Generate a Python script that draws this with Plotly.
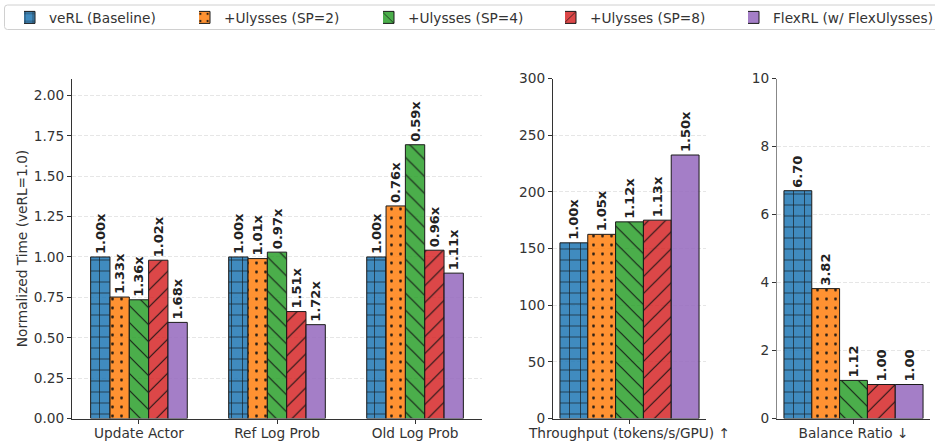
import plotly.graph_objects as go

# ---------------- data ----------------
series_names = ["veRL (Baseline)", "+Ulysses (SP=2)", "+Ulysses (SP=4)", "+Ulysses (SP=8)", "FlexRL (w/ FlexUlysses)"]
stage_categories = ["Update Actor", "Ref Log Prob", "Old Log Prob"]
# normalized time per stage (rows = series, cols = stage)
stage_times = [
    [1.00, 1.00, 1.00],
    [0.752, 0.99, 1.316],
    [0.735, 1.03, 1.695],
    [0.98, 0.662, 1.042],
    [0.595, 0.581, 0.90],
]
stage_labels = [
    ["1.00x", "1.00x", "1.00x"],
    ["1.33x", "1.01x", "0.76x"],
    ["1.36x", "0.97x", "0.59x"],
    ["1.02x", "1.51x", "0.96x"],
    ["1.68x", "1.72x", "1.11x"],
]
throughput_category = ["Throughput (tokens/s/GPU) ↑"]
throughput_values = [155.0, 162.5, 173.5, 175.0, 232.5]
throughput_labels = ["1.00x", "1.05x", "1.12x", "1.13x", "1.50x"]
balance_category = ["Balance Ratio ↓"]
balance_values = [6.70, 3.82, 1.12, 1.00, 1.00]
balance_labels = ["6.70", "3.82", "1.12", "1.00", "1.00"]

y1_ticks = [0.0, 0.25, 0.5, 0.75, 1.0, 1.25, 1.5, 1.75, 2.0]
y2_ticks = [0, 50, 100, 150, 200, 250, 300]
y3_ticks = [0, 2, 4, 6, 8, 10]

# ---------------- style ----------------
colors = ["rgba(31,119,180,0.85)", "rgba(255,127,14,0.85)", "rgba(44,160,44,0.85)",
          "rgba(214,39,40,0.85)", "rgba(148,103,189,0.85)"]
patterns = ["+", ".", "\\", "/", ""]
pat_sizes = [11, 9, 12, 12, 8]
pat_solid = [0.12, 0.08, 0.1, 0.1, 0.2]
legend_ids = ["legend", "legend2", "legend3", "legend4", "legend5"]
legend_left_px = [24, 199, 383, 565, 748]
FONT = "DejaVu Sans"
TXT = "#333333"
FS = 13.7

fig = go.Figure()


def add(x, y, labels, i, xa, ya, show):
    fig.add_trace(go.Bar(
        x=x, y=y, name=series_names[i], legendgroup=series_names[i], showlegend=show,
        legend=legend_ids[i],
        xaxis=xa, yaxis=ya,
        marker=dict(color=colors[i], line=dict(color="#1a1a1a", width=1),
                    pattern=dict(shape=patterns[i], fgcolor="#111111", fgopacity=0.9,
                                 size=pat_sizes[i], solidity=pat_solid[i])),
        text=labels, textposition="outside", textangle=-90, constraintext="none",
        cliponaxis=False,
        textfont=dict(family=FONT, size=13, color="#222222", weight="bold"),
        hoverinfo="skip",
    ))


for i in range(5):
    add(stage_categories, stage_times[i], stage_labels[i], i, "x", "y", True)
    add(throughput_category, [throughput_values[i]], [throughput_labels[i]], i, "x2", "y2", False)
    add(balance_category, [balance_values[i]], [balance_labels[i]], i, "x3", "y3", False)

H = 441.0
W = 935.0
ydom = [(H - 418.5) / H, (H - 78.5) / H]

common_x = dict(showline=True, linecolor=TXT, linewidth=1.2, ticks="outside", ticklen=4,
                tickcolor=TXT, tickfont=dict(family=FONT, size=FS, color=TXT),
                showgrid=False, zeroline=False, fixedrange=True, automargin=False,
                ticklabelstandoff=-2)
common_y = dict(showline=True, linecolor=TXT, linewidth=1.2, ticks="outside", ticklen=4,
                tickcolor=TXT, tickfont=dict(family=FONT, size=FS, color=TXT),
                showgrid=True, gridcolor="#e6e6e6", griddash="4px,2px", gridwidth=0.8,
                zeroline=False, domain=ydom, fixedrange=True, automargin=False)

legend_common = dict(orientation="h", y=1 - 2 / H, xanchor="left", yanchor="top",
                     bgcolor="rgba(0,0,0,0)", borderwidth=0, indentation=-15,
                     font=dict(family=FONT, size=FS, color=TXT), itemwidth=30,
                     traceorder="normal")
legends = {lid: dict(legend_common, x=px / W) for lid, px in zip(legend_ids, legend_left_px)}

# legend frame (rounded left corners; right side runs past the edge as in the reference)
fx0, fy0, fy1, r = 4.5, 5.0, 29.5, 3.0
frame_path = (
    f"M {1.02} {1 - fy0 / H} L {(fx0 + r) / W} {1 - fy0 / H} "
    f"Q {fx0 / W} {1 - fy0 / H} {fx0 / W} {1 - (fy0 + r) / H} "
    f"L {fx0 / W} {1 - (fy1 - r) / H} "
    f"Q {fx0 / W} {1 - fy1 / H} {(fx0 + r) / W} {1 - fy1 / H} "
    f"L {1.02} {1 - fy1 / H}"
)

fig.update_layout(
    width=935, height=441,
    margin=dict(l=0, r=0, t=0, b=0, autoexpand=False),
    paper_bgcolor="white", plot_bgcolor="white",
    barmode="group", bargap=0.3, bargroupgap=0.0,
    font=dict(family=FONT, color=TXT),
    xaxis=dict(common_x, domain=[72 / W, 482 / W], range=[-0.485, 2.485], anchor="y"),
    yaxis=dict(common_y, range=[0, 2.105], tickvals=y1_ticks, tickformat=".2f", anchor="x",
               title=dict(text="Normalized Time (veRL=1.0)", font=dict(family=FONT, size=FS, color=TXT),
                          standoff=2)),
    xaxis2=dict(common_x, domain=[553 / W, 706 / W], range=[-0.385, 0.385], anchor="y2"),
    yaxis2=dict(common_y, range=[0, 300], tickvals=y2_ticks, anchor="x2"),
    xaxis3=dict(common_x, domain=[777 / W, 930 / W], range=[-0.385, 0.385], anchor="y3"),
    yaxis3=dict(common_y, range=[0, 10], tickvals=y3_ticks, anchor="x3", linecolor="#888888"),
    shapes=[dict(type="path", xref="paper", yref="paper", path=frame_path,
                 line=dict(color="#d0d0d0", width=1), layer="below")],
    **legends,
)

fig.write_html("out.html", post_script="document.body.style.margin='0px';",
               config={"displayModeBar": False})
